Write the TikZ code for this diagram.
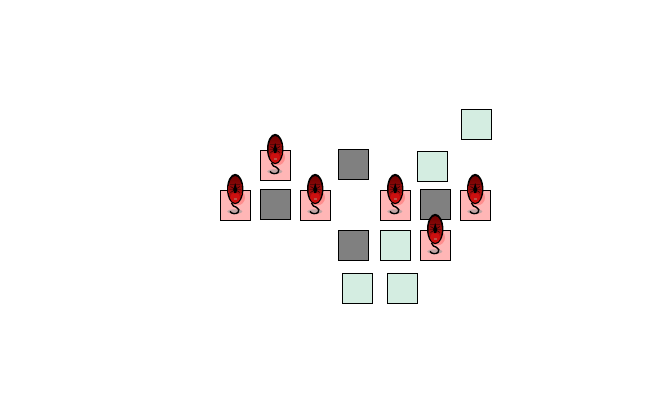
\documentclass[tikz,border=0pt]{standalone}
\usepackage{tikz}
\usetikzlibrary{positioning}
\definecolor{pinkcell}{RGB}{255,182,182}
\definecolor{greencell}{RGB}{212,237,225}
\definecolor{graycell}{RGB}{128,128,128}
\definecolor{mousered}{RGB}{205,15,15}
\definecolor{mousedark}{RGB}{110,0,0}
\definecolor{mousemark}{RGB}{190,80,70}
\begin{document}
\begin{tikzpicture}[x=0.75pt, y=-0.75pt, node distance=7.5pt,
    cell/.style={rectangle, draw, line width=0.7pt, minimum size=22.5pt, inner sep=0pt, outer sep=0pt},
    pinkbox/.style={cell, fill=pinkcell},
    greenbox/.style={cell, fill=greencell},
    graybox/.style={cell, fill=graycell},
    mouse/.pic={
        \fill[black!40, opacity=0.6] (-0.7,6) ellipse (7.5 and 2.2);
        \fill[red, opacity=0.22] (1.5,-8) circle (8);
        \draw[line width=1.05pt] (-4,-2.5) .. controls (-3.5,0.5) and (-1,1) .. (1,1.8) .. controls (3.5,2.8) and (4,5.5) .. (2.5,7) .. controls (0.5,8.8) and (-4,8.5) .. (-5.5,5.8);
        \fill[black] (-0.3,-16.5) ellipse (8.2 and 15.2);
        \shade[top color=mousedark, bottom color=mousered, middle color=mousered!75!black] (-0.3,-16) ellipse (6.7 and 13.4);
        \fill[mousered] (-0.3,-8) ellipse (5 and 5);
        \fill[black] (-0.3,-22.5) -- (1.6,-16) -- (0.8,-12.5) -- (-1.4,-12.5) -- (-2.2,-16) -- cycle;
        \draw[black, line width=0.3pt] (-5.5,-21) -- (4.9,-21) (-6,-16) -- (5.4,-16) (-5,-19) -- (4.4,-13) (4.4,-19) -- (-5,-13);
        \fill[mousemark] (-1.7,-8) rectangle (1.1,-5.5);
    }]
    \useasboundingbox (0,0) rectangle (663,405);
    % row through the middle
    \node[pinkbox] (pinkA) at (235.5,205.5) {};
    \node[graybox, right=of pinkA, yshift=0.75pt] (grayA) {};
    \node[pinkbox, right=of grayA, yshift=-0.75pt] (pinkB) {};
    \node[pinkbox, right=37.5pt of pinkB] (pinkC) {};
    \node[graybox, right=of pinkC, yshift=0.75pt] (grayB) {};
    \node[pinkbox, right=of grayB, yshift=-0.75pt] (pinkD) {};
    % upper cells
    \node[pinkbox, above=of grayA, yshift=-0.75pt] (pinkE) {};
    \node[graybox] (grayC) at (353.5,164.5) {};
    \node[greenbox, above=of grayB, xshift=-2.25pt, yshift=-1.5pt] (greenA) {};
    \node[greenbox, above=38.25pt of pinkD, xshift=0.4pt] (greenB) {};
    % lower cells
    \node[graybox, below=38.25pt of grayC] (grayD) {};
    \node[greenbox, below=of pinkC] (greenC) {};
    \node[pinkbox, below=of grayB, yshift=-0.75pt] (pinkF) {};
    \node[greenbox, below=of grayD, xshift=3pt, yshift=-2.25pt] (greenD) {};
    \node[greenbox, right=11.25pt of greenD] (greenE) {};
    % mice on the pink cells
    \foreach \cellname in {pinkA,pinkB,pinkC,pinkD,pinkE,pinkF}
        \pic at (\cellname.center) {mouse};
\end{tikzpicture}
\end{document}
